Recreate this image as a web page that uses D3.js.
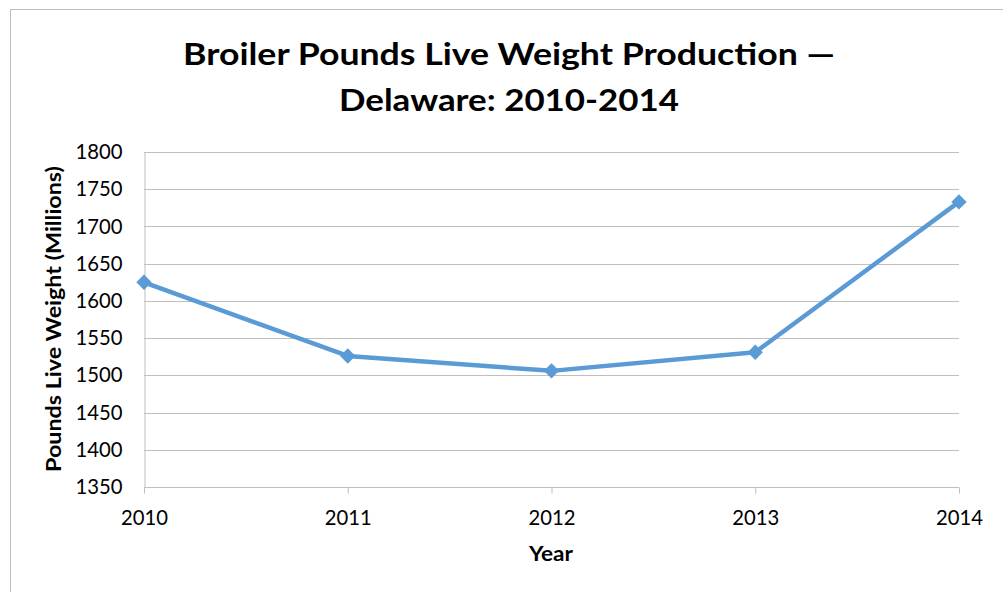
<!DOCTYPE html>
<html><head><meta charset="utf-8">
<script src="https://cdn.jsdelivr.net/npm/d3@7"></script>
<style>body{margin:0;background:#fff;} svg{display:block;}</style>
</head><body>
<svg id="c" width="1003" height="592"></svg>
<script>
const years = [2010, 2011, 2012, 2013, 2014];
const values = [1625, 1526, 1506, 1531, 1733];
const yTicks = [1350, 1400, 1450, 1500, 1550, 1600, 1650, 1700, 1750, 1800];
const titleLines = ["Broiler Pounds Live Weight Production \u2014", "Delaware: 2010-2014"];
const xTitle = "Year";
const yTitle = "Pounds Live Weight (Millions)";

const svg = d3.select("#c");
const font = "Lato, 'Open Sans', sans-serif";
svg.append("rect").attr("x",10.5).attr("y",9.5).attr("width",1003).attr("height",600)
  .attr("fill","#fff").attr("stroke","#BDBDBD").attr("stroke-width",1);

const x = d3.scalePoint().domain(years).range([144, 959]);
const y = d3.scaleLinear().domain([1350, 1800]).range([487, 152]);

// gridlines
svg.append("g").selectAll("line").data(yTicks.filter(d=>d!==1350)).join("line")
  .attr("x1",144).attr("x2",959).attr("y1",d=>Math.round(y(d))+0.5).attr("y2",d=>Math.round(y(d))+0.5)
  .attr("stroke","#BFBFBF").attr("stroke-width",1);

// y axis
const ya = svg.append("g").attr("transform","translate(144.5,0)")
  .call(d3.axisLeft(y).tickValues(yTicks).tickSize(0).tickPadding(22).tickFormat(d3.format("d")));
ya.select(".domain").attr("stroke","#BFBFBF");
ya.selectAll("text").attr("font-family",font).attr("font-size",20.5).attr("fill","#000")
  .attr("textLength",47).attr("lengthAdjust","spacingAndGlyphs");

// x axis
const xa = svg.append("g").attr("transform","translate(0,"+(Math.round(y(1350))+0.5)+")")
  .call(d3.axisBottom(x).tickSize(6).tickPadding(17).tickFormat(d3.format("d")));
xa.select(".domain").attr("stroke","#BFBFBF").attr("d","M144,0H959");
xa.selectAll(".tick line").attr("stroke","#BFBFBF");
xa.selectAll("text").attr("font-family",font).attr("font-size",20.5).attr("fill","#000")
  .attr("textLength",47).attr("lengthAdjust","spacingAndGlyphs");

// line
svg.append("path").datum(years.map((d,i)=>[d,values[i]]))
  .attr("fill","none").attr("stroke","#5B9BD5").attr("stroke-width",4.5).attr("stroke-linejoin","round")
  .attr("d", d3.line().x(d=>x(d[0])).y(d=>y(d[1])));
svg.append("g").selectAll("path").data(years.map((d,i)=>[d,values[i]])).join("path")
  .attr("transform",d=>`translate(${x(d[0])},${y(d[1])})`)
  .attr("d", d3.symbol(d3.symbolDiamond2, 150))
  .attr("fill","#5B9BD5");

// titles
svg.append("text").attr("x",509).attr("y",65).attr("text-anchor","middle")
  .attr("font-family",font).attr("font-weight","bold").attr("font-size",31)
  .attr("textLength",652).attr("lengthAdjust","spacingAndGlyphs").text(titleLines[0]);
svg.append("text").attr("x",509).attr("y",111).attr("text-anchor","middle")
  .attr("font-family",font).attr("font-weight","bold").attr("font-size",31)
  .attr("textLength",340).attr("lengthAdjust","spacingAndGlyphs").text(titleLines[1]);
svg.append("text").attr("x",551).attr("y",561).attr("text-anchor","middle")
  .attr("font-family",font).attr("font-weight","bold").attr("font-size",21)
  .attr("textLength",44).attr("lengthAdjust","spacingAndGlyphs").text(xTitle);
svg.append("text").attr("transform","translate(61,319) rotate(-90)").attr("text-anchor","middle")
  .attr("font-family",font).attr("font-weight","bold").attr("font-size",20)
  .attr("textLength",306).attr("lengthAdjust","spacingAndGlyphs").text(yTitle);
</script>
</body></html>
